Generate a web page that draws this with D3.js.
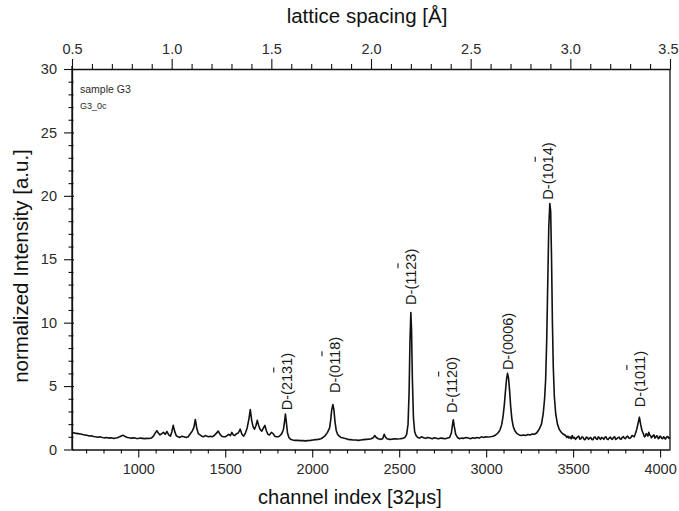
<!DOCTYPE html>
<html>
<head>
<meta charset="utf-8">
<script src="https://cdn.jsdelivr.net/npm/d3@7"></script>
<style>
  html,body{margin:0;padding:0;background:#fff;}
  svg{display:block;}
  text{font-family:"Liberation Sans", Arial, sans-serif;}
</style>
</head>
<body>
<svg id="chart" width="679" height="511"></svg>
<script>
// ---------------- data ----------------
const spectrum = [
[619,1.30],[630,1.32],[642,1.27],[655,1.25],[668,1.22],[680,1.18],[692,1.15],[705,1.12],[718,1.06],[730,1.08],
[743,1.02],[755,1.00],[768,0.97],[780,1.00],[793,0.95],[805,0.92],[818,0.94],[830,0.90],[843,0.92],[855,0.88],
[868,0.90],[880,0.93],[893,1.00],[905,1.08],[914,1.12],[925,1.02],[937,0.95],[950,0.92],[962,0.90],[975,0.92],
[987,0.88],[1000,0.87],[1012,0.90],[1025,0.88],[1037,0.86],[1050,0.88],[1062,0.87],[1075,0.90],[1087,1.05],[1100,1.35],
[1107,1.48],[1115,1.30],[1125,1.15],[1135,1.25],[1145,1.35],[1155,1.20],[1165,1.42],[1175,1.15],[1185,1.05],[1193,1.40],
[1201,1.90],[1209,1.45],[1218,1.10],[1228,1.00],[1240,0.95],[1250,1.05],[1262,1.00],[1275,0.95],[1287,1.00],[1297,1.20],
[1310,1.45],[1320,1.75],[1328,2.37],[1336,1.70],[1345,1.25],[1355,1.15],[1365,1.05],[1375,1.00],[1385,1.10],[1395,1.05],
[1405,1.00],[1415,1.05],[1425,1.00],[1437,1.10],[1447,1.25],[1460,1.45],[1470,1.20],[1480,1.05],[1490,1.00],[1500,1.00],
[1510,1.10],[1520,1.20],[1530,1.10],[1538,1.35],[1546,1.15],[1555,1.10],[1565,1.25],[1575,1.30],[1586,1.60],[1596,1.20],
[1606,1.05],[1616,1.30],[1626,1.70],[1636,2.40],[1644,3.15],[1652,2.30],[1660,1.80],[1668,1.60],[1676,1.85],[1684,2.30],
[1692,1.90],[1700,1.60],[1710,1.45],[1720,1.70],[1728,1.90],[1736,1.50],[1745,1.20],[1755,1.15],[1765,1.35],[1775,1.25],
[1785,1.05],[1795,1.00],[1805,1.00],[1815,1.10],[1825,1.25],[1835,1.60],[1841,2.20],[1846,2.80],[1851,2.20],[1858,1.30],
[1866,0.95],[1875,0.80],[1888,0.75],[1900,0.72],[1915,0.72],[1930,0.70],[1945,0.70],[1960,0.68],[1975,0.70],[1990,0.72],
[2005,0.75],[2020,0.78],[2035,0.80],[2050,0.85],[2062,0.95],[2075,1.10],[2088,1.35],[2100,1.70],[2106,2.30],[2112,3.10],
[2119,3.55],[2125,3.10],[2131,2.20],[2138,1.50],[2146,1.20],[2155,1.05],[2165,0.95],[2175,0.92],[2185,0.88],[2195,0.85],
[2205,0.80],[2220,0.78],[2235,0.75],[2250,0.75],[2265,0.72],[2280,0.75],[2295,0.78],[2310,0.80],[2325,0.82],[2340,0.85],
[2352,0.95],[2360,1.10],[2368,0.95],[2380,0.85],[2395,0.80],[2405,0.85],[2414,1.20],[2420,1.00],[2430,0.85],[2445,0.80],
[2460,0.82],[2475,0.85],[2490,0.83],[2505,0.85],[2520,0.88],[2533,0.95],[2543,1.20],[2551,2.00],[2557,4.50],[2562,8.50],
[2567,10.80],[2571,9.50],[2576,5.50],[2582,2.50],[2589,1.40],[2597,1.10],[2607,0.95],[2617,0.90],[2628,1.00],[2640,0.92],
[2652,0.88],[2665,0.95],[2677,0.90],[2690,0.85],[2702,0.92],[2715,0.88],[2727,0.85],[2740,0.90],[2752,0.88],[2765,0.85],
[2778,0.90],[2790,0.95],[2800,1.30],[2806,1.90],[2811,2.35],[2817,1.80],[2825,1.20],[2835,0.95],[2847,0.85],[2860,0.90],
[2872,0.88],[2885,0.95],[2897,0.90],[2910,0.85],[2922,0.92],[2935,0.88],[2947,0.95],[2960,0.90],[2972,1.00],[2985,0.95],
[2997,1.00],[3010,0.98],[3022,1.00],[3032,1.02],[3040,1.05],[3055,1.15],[3068,1.30],[3080,1.55],[3090,2.00],[3098,2.70],
[3105,3.60],[3111,4.60],[3117,5.50],[3123,6.00],[3129,5.60],[3135,4.60],[3141,3.40],[3148,2.40],[3156,1.80],[3166,1.45],
[3178,1.25],[3190,1.15],[3202,1.10],[3215,1.15],[3227,1.10],[3240,1.18],[3252,1.15],[3265,1.22],[3278,1.20],[3290,1.30],
[3305,1.60],[3318,2.00],[3328,2.80],[3336,4.00],[3342,5.50],[3348,8.50],[3354,13.00],[3360,17.50],[3366,19.40],[3371,18.80],
[3376,15.00],[3381,10.00],[3386,6.50],[3392,4.20],[3400,2.80],[3410,2.00],[3420,1.60],[3432,1.35],[3445,1.20],[3457,1.10],
[3464,0.95],[3470,1.05],[3476,0.90],[3482,1.00],[3489,0.85],[3495,1.10],[3501,0.90],[3507,0.95],[3514,0.80],[3520,0.90],
[3526,1.00],[3532,1.05],[3539,0.82],[3545,0.85],[3551,1.00],[3557,0.95],[3564,0.78],[3570,0.80],[3576,0.98],[3582,0.95],
[3589,0.80],[3595,0.90],[3601,0.95],[3607,0.80],[3614,0.78],[3620,0.95],[3626,1.00],[3632,0.85],[3639,0.80],[3645,1.00],
[3651,0.92],[3657,0.80],[3664,0.95],[3670,0.90],[3676,0.80],[3682,0.95],[3689,1.00],[3695,0.82],[3701,0.78],[3707,0.90],
[3714,0.98],[3720,0.85],[3726,0.80],[3732,0.95],[3739,1.00],[3745,0.80],[3751,0.85],[3757,0.92],[3764,0.98],[3770,0.85],
[3776,0.80],[3782,0.95],[3789,1.02],[3795,0.88],[3801,0.85],[3807,1.00],[3814,1.05],[3820,0.90],[3826,0.88],[3832,0.95],
[3839,1.10],[3845,1.05],[3851,1.00],[3857,1.20],[3866,1.60],[3874,2.10],[3881,2.55],[3888,2.00],[3896,1.50],[3905,1.20],
[3910,1.00],[3915,1.05],[3920,1.25],[3925,1.20],[3930,1.05],[3935,1.35],[3940,1.15],[3945,1.10],[3950,0.92],[3955,1.00],
[3960,1.10],[3965,1.15],[3970,0.90],[3975,0.95],[3980,1.08],[3985,1.05],[3990,0.85],[3995,0.90],[4000,1.05],[4005,1.00],
[4010,0.88],[4015,0.85],[4020,1.00],[4025,0.95],[4030,0.82],[4035,0.90],[4040,1.02],[4045,1.00],[4051,0.88],[4057,0.95]
];

// peak labels: text, channel of the label, intensity where the label starts, index of barred digit
const peakNames    = ["D-(2131)","D-(0118)","D-(1123)","D-(1120)","D-(0006)","D-(1014)","D-(1011)"];
const peakChannels = [1855, 2132, 2569, 2803, 3128, 3358, 3885];
const peakLabelAt  = [3.1, 4.45, 11.4, 2.87, 6.26, 19.7, 3.34];
const peakBarIndex = [5, 5, 5, 5, -1, 5, 5];

const channelDomain  = [619, 4057];
const channelTicks   = [1000,1500,2000,2500,3000,3500,4000];
const latticeDomain  = [0.5, 3.5];
const latticeTicks   = [0.5,1.0,1.5,2.0,2.5,3.0,3.5];
const latticeLabels  = ["0.5","1.0","1.5","2.0","2.5","3.0","3.5"];
const intensityDomain= [0, 30];
const intensityTicks = [0,5,10,15,20,25,30];

const sampleTitle = "sample G3";
const sampleFile  = "G3_0c";
const xTitle = "channel index [32\u03BCs]";
const topTitle = "lattice spacing [\u00C5]";
const yTitle = "normalized Intensity [a.u.]";

// ---------------- layout ----------------
const L = 72, R = 670, T = 69, B = 449.5, W = 679;
const svg = d3.select("#chart");
const ink = "#111";

const x = d3.scaleLinear().domain(channelDomain).range([L, R]);
const xt = d3.scaleLinear().domain(latticeDomain).range([L, R]);
const y = d3.scaleLinear().domain(intensityDomain).range([B, T]);

// minor tick values
const chMinor = d3.range(700, 4001, 100).filter(v => v % 500 !== 0);
const ltMinor = d3.range(6, 35).map(v => v / 10).filter(v => Math.abs(v*2 - Math.round(v*2)) > 1e-6);
const inMinor = d3.range(1, 30).filter(v => v % 5 !== 0);

function styleAxis(g){
  g.selectAll("path").attr("stroke", ink).attr("stroke-width", 1.3);
  g.selectAll("line").attr("stroke", ink).attr("stroke-width", 1.1);
  g.selectAll("text").attr("fill", "#2b2b2b").attr("font-size", 14.5)
   .attr("font-family", "Liberation Sans, Arial, sans-serif");
}

// bottom axis
const gB = svg.append("g").attr("transform", `translate(0,${B})`)
  .call(d3.axisBottom(x).tickValues(channelTicks).tickSize(8).tickSizeOuter(0).tickPadding(6).tickFormat(d3.format("d")));
styleAxis(gB);
const gBm = svg.append("g").attr("transform", `translate(0,${B})`)
  .call(d3.axisBottom(x).tickValues(chMinor).tickSize(4).tickSizeOuter(0).tickFormat(""));
styleAxis(gBm); gBm.select("path").remove();

// top axis
const gT = svg.append("g").attr("transform", `translate(0,${T})`)
  .call(d3.axisTop(xt).tickValues(latticeTicks).tickSize(10).tickSizeOuter(0).tickPadding(5)
  .tickFormat((d,i) => latticeLabels[i]));
styleAxis(gT);
// keep the last label inside the picture, as in the reference where it touches the edge
gT.selectAll(".tick").filter(d => d === latticeDomain[1]).select("text")
  .attr("text-anchor", "end").attr("x", W - 1 - R);
const gTm = svg.append("g").attr("transform", `translate(0,${T})`)
  .call(d3.axisTop(xt).tickValues(ltMinor).tickSize(5).tickSizeOuter(0).tickFormat(""));
styleAxis(gTm); gTm.select("path").remove();

// left axis
const gL = svg.append("g").attr("transform", `translate(${L},0)`)
  .call(d3.axisLeft(y).tickValues(intensityTicks).tickSize(8).tickSizeOuter(0).tickPadding(7));
styleAxis(gL);
gL.selectAll(".tick line").attr("x1", 2);
const gLm = svg.append("g").attr("transform", `translate(${L},0)`)
  .call(d3.axisLeft(y).tickValues(inMinor).tickSize(3.5).tickSizeOuter(0).tickFormat(""));
styleAxis(gLm); gLm.select("path").remove();
gLm.selectAll(".tick line").attr("x1", 1.5);

// right border
svg.append("line").attr("x1", R).attr("x2", R).attr("y1", T).attr("y2", B)
  .attr("stroke", ink).attr("stroke-width", 1.3);
svg.append("line").attr("x1", L).attr("x2", L).attr("y1", T - 3).attr("y2", B)
  .attr("stroke", ink).attr("stroke-width", 1.3);

// spectrum
const line = d3.line().x(d => x(d[0])).y(d => y(d[1]));
svg.append("path").datum(spectrum).attr("d", line)
  .attr("fill", "none").attr("stroke", ink).attr("stroke-width", 1.6).attr("stroke-linejoin", "round");

// peak labels (rotated)
const fs = 14.5;
peakNames.forEach((name, i) => {
  const cx = x(peakChannels[i]);
  const g = svg.append("g")
    .attr("transform", `translate(${cx + 4.8},${y(peakLabelAt[i])}) rotate(-90)`);
  const t = g.append("text").attr("x", 0).attr("y", 0)
    .attr("font-size", fs).attr("fill", "#1a1a1a").text(name);
  const bi = peakBarIndex[i];
  if (bi >= 0) {
    const n = t.node();
    const s = n.getStartPositionOfChar(bi).x, e = n.getEndPositionOfChar(bi).x;
    const m = (s + e) / 2;
    g.append("line").attr("x1", m - 2.5).attr("x2", m + 2.5)
      .attr("y1", -18).attr("y2", -18)
      .attr("stroke", "#1a1a1a").attr("stroke-width", 1.1);
  }
});

// sample annotation
svg.append("text").attr("x", 80).attr("y", 93).attr("font-size", 10.5).attr("fill", "#2b2b2b").text(sampleTitle);
svg.append("text").attr("x", 80).attr("y", 109).attr("font-size", 9).attr("fill", "#2b2b2b").text(sampleFile);

// axis titles
svg.append("text").attr("x", 350).attr("y", 504).attr("text-anchor", "middle")
  .attr("font-size", 20).attr("fill", "#111").text(xTitle);
svg.append("text").attr("x", 367).attr("y", 23).attr("text-anchor", "middle")
  .attr("font-size", 20.5).attr("fill", "#111").text(topTitle);
svg.append("text").attr("transform", "translate(28,266) rotate(-90)").attr("text-anchor", "middle")
  .attr("font-size", 20.5).attr("fill", "#111").text(yTitle);
</script>
</body>
</html>
